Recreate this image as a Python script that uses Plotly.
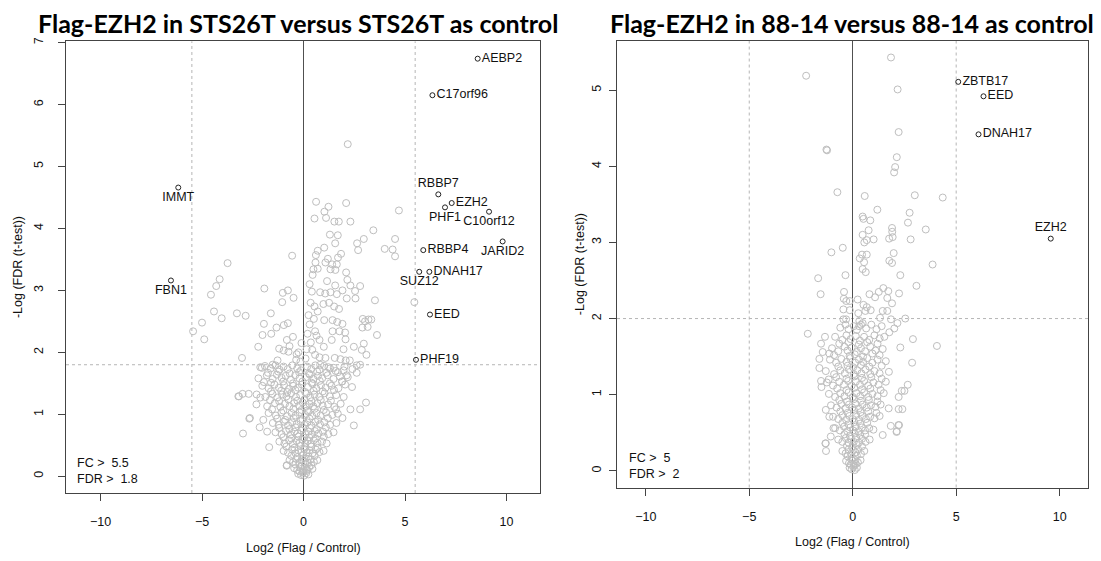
import plotly.graph_objects as go

# ---------------- DATA ----------------
# Left panel: Flag-EZH2 in STS26T
left_genes = ["AEBP2", "C17orf96", "RBBP7", "EZH2", "PHF1", "C10orf12", "JARID2",
              "RBBP4", "DNAH17", "SUZ12", "EED", "PHF19", "IMMT", "FBN1"]
left_gene_x = [8.58, 6.35, 6.64, 7.30, 6.97, 9.14, 9.81, 5.90, 6.20, 5.70, 6.23, 5.54, -6.17, -6.53]
left_gene_y = [6.74, 6.15, 4.55, 4.41, 4.34, 4.27, 3.79, 3.65, 3.30, 3.30, 2.61, 1.88, 4.66, 3.16]
left_fc_cut = 5.5
left_fdr_cut = 1.8

left_background = [
    (2.18, 5.36), (0.62, 4.43), (1.23, 4.35), (2.10, 4.41), (1.03, 4.27), (1.11, 4.17),
    (0.54, 4.16), (1.52, 4.11), (1.74, 4.11), (2.31, 4.11), (4.70, 4.29), (3.44, 3.97),
    (1.30, 3.90), (1.69, 3.89), (2.97, 3.83), (2.64, 3.76), (1.56, 3.76), (4.51, 3.83),
    (4.00, 3.67), (4.39, 3.66), (4.51, 3.55), (2.69, 3.65), (1.02, 3.69), (0.70, 3.64),
    (1.85, 3.59), (0.61, 3.57), (-0.56, 3.56), (1.20, 3.51), (1.70, 3.53), (0.59, 3.45),
    (1.08, 3.45), (1.41, 3.42), (1.64, 3.42), (0.49, 3.34), (0.70, 3.35), (1.33, 3.34),
    (1.57, 3.33), (2.10, 3.29), (-3.74, 3.44), (-4.13, 3.18), (-4.30, 3.07), (-4.56, 2.93),
    (-1.93, 3.03), (-0.77, 3.00), (-1.02, 2.96), (-0.49, 2.88), (-1.05, 2.81), (1.16, 3.15),
    (1.56, 3.08), (2.16, 3.17), (2.31, 3.08), (2.79, 3.07), (2.54, 2.99), (0.41, 2.98),
    (0.82, 2.97), (1.07, 2.95), (1.33, 2.97), (1.64, 2.94), (1.92, 3.00), (2.13, 2.87),
    (2.56, 2.87), (3.52, 2.84), (5.46, 2.81), (0.98, 2.78), (1.26, 2.80), (0.54, 2.74),
    (1.51, 2.74), (1.75, 2.70), (0.70, 2.66), (0.51, 2.54), (1.02, 2.52), (1.43, 2.52),
    (1.66, 2.49), (1.92, 2.46), (2.92, 2.54), (3.20, 2.53), (3.34, 2.53), (3.03, 2.50),
    (2.90, 2.40), (3.16, 2.41), (3.62, 2.28), (-4.41, 2.66), (-5.00, 2.48), (-5.44, 2.34),
    (-4.89, 2.21), (-4.03, 2.55), (-3.28, 2.63), (-2.85, 2.59), (-1.61, 2.63), (-1.95, 2.46),
    (-1.33, 2.40), (-0.77, 2.47), (-0.97, 2.44), (-1.59, 2.30), (-2.02, 2.28), (-0.82, 2.20),
    (-0.52, 2.25), (-0.69, 2.10), (-2.23, 2.09), (-1.20, 2.06), (-0.98, 2.03), (-0.74, 2.01),
    (-0.34, 1.97), (-3.03, 1.91), (-2.13, 1.76), (-2.05, 1.75), (-1.28, 1.87), (-1.52, 1.80),
    (-0.36, 1.88), (0.57, 2.34), (0.64, 2.27), (1.43, 2.34), (1.77, 2.34), (2.05, 2.32),
    (2.07, 2.21), (1.39, 2.20), (0.79, 2.20), (0.36, 2.16), (1.00, 2.09), (1.97, 2.05),
    (2.48, 2.09), (2.87, 2.04), (3.10, 1.96), (2.97, 2.14), (0.43, 2.04), (0.57, 1.96),
    (0.79, 1.92), (1.08, 1.91), (1.54, 1.91), (1.82, 1.89), (2.08, 1.87), (2.28, 1.87),
    (2.62, 1.79), (2.79, 1.80), (2.62, 1.67), (0.82, 1.80), (1.23, 1.76), (1.49, 1.75),
    (1.97, 1.71), (2.13, 1.63), (1.90, 1.53), (2.39, 1.44), (3.08, 1.19), (2.79, 1.08),
    (2.31, 1.08), (2.48, 0.82), (1.92, 0.94), (-3.18, 1.29), (-3.00, 1.33), (-2.70, 1.33),
    (-2.31, 1.32), (-2.13, 1.27), (-2.64, 0.94), (-2.98, 0.69), (-1.69, 0.47), (-1.98, 0.91),
    (-2.16, 0.79), (-1.79, 0.72), (-0.82, 0.18), (-3.21, 1.29), (-2.67, 0.93), (-0.83, 0.17),
    (-0.15, 1.85), (-0.25, 2.00), (-0.10, 2.15), (0.10, 1.90), (0.15, 2.05), (0.20, 2.30),
    (0.30, 2.45), (0.25, 2.60), (0.35, 2.80), (0.30, 3.10), (0.45, 3.25),
    (-1.90, 1.78), (-1.62, 1.74), (-1.38, 1.79), (-1.18, 1.72), (-0.98, 1.77), (-0.78, 1.73),
    (-0.55, 1.79), (-0.31, 1.74), (-0.12, 1.71), (0.18, 1.77), (0.38, 1.73), (0.58, 1.79),
    (0.79, 1.72), (1.02, 1.78), (1.31, 1.74), (1.58, 1.70), (2.02, 1.77), (2.41, 1.73),
    (-2.22, 1.58), (-1.81, 1.63), (-1.52, 1.57), (-1.31, 1.64), (-1.08, 1.59), (-0.88, 1.62),
    (-0.62, 1.56), (-0.41, 1.63), (-0.20, 1.58), (0.12, 1.60), (0.31, 1.64), (0.49, 1.57),
    (0.71, 1.62), (0.92, 1.58), (1.19, 1.63), (1.48, 1.57), (1.79, 1.61), (2.18, 1.60),
    (-2.03, 1.46), (-1.72, 1.42), (-1.43, 1.48), (-1.21, 1.43), (-0.96, 1.47), (-0.72, 1.41),
    (-0.51, 1.46), (-0.27, 1.43), (-0.08, 1.48), (0.22, 1.44), (0.44, 1.49), (0.63, 1.42),
    (0.86, 1.47), (1.09, 1.43), (1.38, 1.46), (1.72, 1.42), (2.05, 1.48),
    (-1.88, 1.28), (-1.53, 1.33), (-1.29, 1.27), (-1.06, 1.32), (-0.84, 1.29), (-0.61, 1.34),
    (-0.37, 1.28), (-0.16, 1.31), (0.14, 1.33), (0.33, 1.27), (0.54, 1.32), (0.78, 1.28),
    (1.04, 1.34), (1.29, 1.29), (1.61, 1.31), (1.98, 1.28),
    (-2.32, 1.16), (-1.79, 1.13), (-1.41, 1.18), (-1.14, 1.12), (-0.91, 1.17), (-0.69, 1.13),
    (-0.46, 1.18), (-0.22, 1.14), (-0.04, 1.19), (0.11, 1.12), (0.29, 1.17), (0.48, 1.13),
    (0.69, 1.18), (0.94, 1.14), (1.21, 1.16), (1.52, 1.12), (1.83, 1.17),
    (-1.72, 1.02), (-1.36, 0.98), (-1.09, 1.03), (-0.81, 0.97), (-0.59, 1.02), (-0.39, 0.98),
    (-0.19, 1.03), (0.08, 0.99), (0.24, 1.04), (0.43, 0.97), (0.64, 1.02), (0.84, 0.98),
    (1.11, 1.03), (1.42, 0.99), (1.69, 1.01),
    (-1.51, 0.86), (-1.22, 0.83), (-0.96, 0.88), (-0.76, 0.82), (-0.56, 0.87), (-0.34, 0.84),
    (-0.14, 0.89), (0.04, 0.83), (0.19, 0.87), (0.39, 0.82), (0.58, 0.88), (0.81, 0.84),
    (1.03, 0.87), (1.31, 0.83), (1.62, 0.86),
    (-1.38, 0.71), (-1.08, 0.68), (-0.86, 0.73), (-0.64, 0.67), (-0.46, 0.72), (-0.29, 0.69),
    (-0.11, 0.74), (0.09, 0.68), (0.24, 0.72), (0.41, 0.67), (0.56, 0.73), (0.74, 0.69),
    (0.96, 0.72), (1.22, 0.68), (1.48, 0.71),
    (-1.19, 0.56), (-0.94, 0.53), (-0.71, 0.58), (-0.52, 0.52), (-0.34, 0.57), (-0.19, 0.54),
    (-0.06, 0.59), (0.09, 0.53), (0.21, 0.57), (0.34, 0.52), (0.51, 0.58), (0.69, 0.54),
    (0.91, 0.56), (1.14, 0.53),
    (-0.98, 0.41), (-0.76, 0.38), (-0.56, 0.43), (-0.39, 0.37), (-0.26, 0.42), (-0.11, 0.39),
    (0.04, 0.44), (0.16, 0.38), (0.29, 0.42), (0.44, 0.37), (0.61, 0.43), (0.79, 0.39),
    (0.99, 0.41),
    (-0.69, 0.26), (-0.51, 0.23), (-0.36, 0.28), (-0.21, 0.22), (-0.09, 0.27), (0.01, 0.24),
    (0.11, 0.29), (0.21, 0.22), (0.34, 0.27), (0.51, 0.23), (0.68, 0.26),
    (-0.46, 0.13), (-0.31, 0.10), (-0.16, 0.15), (-0.05, 0.09), (0.06, 0.14), (0.16, 0.11),
    (0.29, 0.15), (0.44, 0.12),
    (-0.26, 0.04), (-0.12, 0.02), (-0.03, 0.06), (0.03, 0.01), (0.13, 0.05), (0.24, 0.03),
    (-1.75, 1.67), (-1.25, 1.69), (-0.68, 1.66), (-0.22, 1.68), (0.27, 1.66), (0.67, 1.69),
    (1.13, 1.67), (1.70, 1.68),
    (-1.95, 1.52), (-1.60, 1.51), (-1.00, 1.53), (-0.52, 1.50), (-0.05, 1.53), (0.40, 1.51),
    (0.80, 1.54), (1.30, 1.50), (1.90, 1.53),
    (-1.60, 1.37), (-1.10, 1.38), (-0.80, 1.36), (-0.40, 1.39), (0.08, 1.36), (0.50, 1.38),
    (0.95, 1.37), (1.50, 1.39),
    (-1.65, 1.23), (-1.20, 1.21), (-0.75, 1.24), (-0.30, 1.22), (0.05, 1.24), (0.40, 1.21),
    (0.85, 1.23), (1.35, 1.22),
    (-1.55, 1.08), (-1.00, 1.06), (-0.50, 1.09), (-0.10, 1.07), (0.18, 1.06), (0.55, 1.09),
    (1.00, 1.07), (1.60, 1.08),
    (-1.30, 0.93), (-0.90, 0.91), (-0.48, 0.94), (-0.05, 0.92), (0.30, 0.93), (0.72, 0.91),
    (1.20, 0.94),
    (-1.20, 0.78), (-0.70, 0.76), (-0.40, 0.79), (-0.02, 0.77), (0.32, 0.78), (0.65, 0.76),
    (1.10, 0.79),
    (-1.00, 0.63), (-0.60, 0.61), (-0.25, 0.64), (0.03, 0.62), (0.28, 0.63), (0.60, 0.61),
    (1.00, 0.64),
    (-0.85, 0.48), (-0.45, 0.46), (-0.15, 0.49), (0.10, 0.47), (0.38, 0.48), (0.70, 0.46),
    (-0.60, 0.33), (-0.30, 0.31), (-0.02, 0.34), (0.25, 0.32), (0.55, 0.33),
    (-0.40, 0.19), (-0.10, 0.17), (0.10, 0.20), (0.38, 0.18),
    (-0.20, 0.08), (0.00, 0.07), (0.18, 0.09),
]

# Right panel: Flag-EZH2 in 88-14
right_genes = ["ZBTB17", "EED", "DNAH17", "EZH2"]
right_gene_x = [5.10, 6.32, 6.08, 9.57]
right_gene_y = [5.11, 4.92, 4.42, 3.05]
right_fc_cut = 5
right_fdr_cut = 2

right_background = [
    (1.85, 5.43), (-2.25, 5.19), (2.17, 5.01), (2.22, 4.45), (-1.24, 4.21), (-1.27, 4.22),
    (2.13, 4.12), (2.05, 3.99), (2.00, 3.92), (-0.74, 3.66), (0.58, 3.61), (3.00, 3.62),
    (4.35, 3.59), (1.19, 3.43), (2.75, 3.39), (0.48, 3.34), (0.52, 3.31), (0.85, 3.29),
    (2.67, 3.26), (3.53, 3.17), (1.90, 3.19), (1.91, 3.14), (0.77, 3.16), (0.48, 3.10),
    (0.68, 3.03), (0.56, 3.00), (1.01, 3.04), (1.76, 3.05), (1.93, 3.07), (2.80, 3.04),
    (-1.03, 2.87), (-0.48, 2.93), (0.34, 2.79), (0.45, 2.84), (0.68, 2.84), (0.55, 2.74),
    (1.77, 2.76), (1.90, 2.73), (1.98, 2.86), (3.86, 2.71), (0.48, 2.65), (0.63, 2.61),
    (2.30, 2.57), (-0.35, 2.57), (-1.67, 2.53), (3.08, 2.43), (-1.55, 2.32), (-0.42, 2.35),
    (-0.43, 2.26), (-0.31, 2.23), (-0.14, 2.23), (0.24, 2.25), (0.81, 2.32), (1.08, 2.28),
    (1.26, 2.35), (1.48, 2.40), (1.72, 2.36), (2.24, 2.33), (1.67, 2.27), (1.90, 2.20),
    (0.52, 2.18), (0.68, 2.15), (0.87, 2.11), (0.61, 2.10), (1.45, 2.10), (1.67, 2.10),
    (-0.45, 2.12), (-0.14, 2.11), (0.27, 2.07), (-0.45, 1.99), (-0.32, 1.99), (1.32, 2.01),
    (2.54, 2.00), (1.85, 1.99), (0.32, 1.97), (0.40, 1.92), (0.31, 1.90), (0.48, 1.94),
    (2.16, 1.94), (2.01, 1.87), (1.77, 1.82), (1.53, 1.76), (-2.17, 1.80), (-1.34, 1.76),
    (-1.53, 1.67), (2.91, 1.73), (2.30, 1.62), (4.07, 1.64), (-1.45, 1.56), (-1.13, 1.54),
    (-1.61, 1.47), (-1.61, 1.35), (2.87, 1.42), (-1.53, 1.18), (-1.51, 1.10), (-1.16, 1.20),
    (2.66, 1.13), (2.50, 1.05), (2.37, 1.05), (2.22, 0.97), (1.74, 0.82), (2.22, 0.81),
    (2.40, 0.81), (1.84, 0.59), (2.21, 0.60), (2.13, 0.52), (1.45, 0.47), (-1.30, 0.80),
    (-1.13, 0.71), (-0.93, 0.56), (-1.06, 0.45), (-1.30, 0.36), (-1.29, 0.26), (-1.32, 0.36),
    (2.24, 0.60), (2.12, 0.51),
    (-0.60, 1.88), (-0.35, 1.92), (-0.20, 1.86), (0.05, 1.90), (0.20, 1.85), (0.65, 1.87),
    (0.90, 1.92), (1.15, 1.86), (1.40, 1.90),
    (-0.85, 1.76), (-0.50, 1.72), (-0.30, 1.78), (-0.10, 1.73), (0.15, 1.77), (0.35, 1.71),
    (0.55, 1.76), (0.80, 1.72), (1.05, 1.78), (1.30, 1.74),
    (-1.00, 1.61), (-0.70, 1.57), (-0.40, 1.63), (-0.25, 1.58), (-0.05, 1.62), (0.20, 1.56),
    (0.40, 1.61), (0.60, 1.57), (0.85, 1.63), (1.10, 1.58), (1.45, 1.60),
    (-1.10, 1.46), (-0.80, 1.42), (-0.55, 1.47), (-0.30, 1.43), (-0.12, 1.48), (0.12, 1.42),
    (0.30, 1.46), (0.50, 1.43), (0.70, 1.48), (0.95, 1.42), (1.20, 1.46), (1.60, 1.44),
    (-1.30, 1.31), (-0.90, 1.27), (-0.60, 1.32), (-0.38, 1.28), (-0.18, 1.33), (0.05, 1.27),
    (0.22, 1.32), (0.42, 1.28), (0.62, 1.33), (0.85, 1.27), (1.05, 1.31), (1.30, 1.28),
    (1.75, 1.30),
    (-1.25, 1.16), (-0.95, 1.12), (-0.65, 1.17), (-0.42, 1.13), (-0.22, 1.18), (-0.05, 1.12),
    (0.15, 1.17), (0.35, 1.13), (0.55, 1.18), (0.75, 1.12), (1.00, 1.16), (1.25, 1.13),
    (1.60, 1.17),
    (-1.15, 1.01), (-0.85, 0.97), (-0.60, 1.02), (-0.40, 0.98), (-0.20, 1.03), (0.00, 0.97),
    (0.18, 1.02), (0.36, 0.98), (0.55, 1.03), (0.75, 0.97), (0.95, 1.01), (1.20, 0.98),
    (1.50, 1.02),
    (-1.05, 0.86), (-0.78, 0.83), (-0.55, 0.88), (-0.35, 0.82), (-0.18, 0.87), (-0.02, 0.83),
    (0.14, 0.88), (0.30, 0.82), (0.48, 0.87), (0.68, 0.83), (0.88, 0.86), (1.10, 0.84),
    (1.35, 0.87),
    (-0.95, 0.71), (-0.70, 0.68), (-0.50, 0.73), (-0.32, 0.67), (-0.16, 0.72), (0.00, 0.68),
    (0.15, 0.73), (0.30, 0.67), (0.46, 0.72), (0.64, 0.68), (0.84, 0.71), (1.05, 0.69),
    (1.30, 0.72),
    (-0.85, 0.56), (-0.62, 0.53), (-0.42, 0.58), (-0.26, 0.52), (-0.12, 0.57), (0.02, 0.53),
    (0.14, 0.58), (0.28, 0.52), (0.44, 0.57), (0.60, 0.53), (0.80, 0.56), (1.00, 0.54),
    (-0.70, 0.41), (-0.50, 0.38), (-0.34, 0.43), (-0.20, 0.37), (-0.08, 0.42), (0.05, 0.38),
    (0.17, 0.43), (0.30, 0.37), (0.45, 0.42), (0.62, 0.38), (0.82, 0.41),
    (-0.50, 0.26), (-0.34, 0.23), (-0.20, 0.28), (-0.08, 0.22), (0.04, 0.27), (0.14, 0.24),
    (0.26, 0.28), (0.40, 0.22), (0.56, 0.26),
    (-0.32, 0.13), (-0.18, 0.10), (-0.07, 0.15), (0.04, 0.09), (0.13, 0.14), (0.25, 0.11),
    (0.38, 0.14),
    (-0.15, 0.04), (-0.05, 0.02), (0.03, 0.05), (0.10, 0.01), (0.20, 0.04),
    (-0.65, 1.67), (-0.20, 1.69), (0.30, 1.66), (0.70, 1.69), (1.20, 1.67),
    (-0.90, 1.52), (-0.15, 1.51), (0.10, 1.53), (0.50, 1.50), (0.95, 1.54), (1.30, 1.52),
    (-0.70, 1.37), (-0.25, 1.38), (0.02, 1.36), (0.40, 1.39), (0.80, 1.37), (1.40, 1.38),
    (-0.80, 1.23), (-0.30, 1.21), (0.08, 1.24), (0.45, 1.22), (0.90, 1.23), (1.40, 1.21),
    (-0.75, 1.08), (-0.30, 1.06), (0.08, 1.09), (0.45, 1.07), (0.85, 1.08), (1.35, 1.06),
    (-0.65, 0.93), (-0.28, 0.91), (0.05, 0.94), (0.40, 0.92), (0.78, 0.93), (1.20, 0.91),
    (-0.60, 0.78), (-0.25, 0.76), (0.07, 0.79), (0.38, 0.77), (0.75, 0.78), (1.15, 0.76),
    (-0.50, 0.63), (-0.20, 0.61), (0.08, 0.64), (0.36, 0.62), (0.70, 0.63),
    (-0.40, 0.48), (-0.14, 0.46), (0.11, 0.49), (0.36, 0.47), (0.60, 0.48),
    (-0.28, 0.33), (-0.03, 0.31), (0.20, 0.34), (0.45, 0.32),
    (-0.25, 0.19), (0.00, 0.17), (0.20, 0.20),
    (-0.10, 0.08), (0.06, 0.07), (0.15, 0.09),
]

x_ticks = [-10, -5, 0, 5, 10]
left_y_ticks = [0, 1, 2, 3, 4, 5, 6, 7]
right_y_ticks = [0, 1, 2, 3, 4, 5]

left_title = "Flag-EZH2 in STS26T versus STS26T as control"
right_title = "Flag-EZH2 in 88-14 versus 88-14 as control"
x_label = "Log2 (Flag / Control)"
y_label = "-Log (FDR (t-test))"

# Label positions (style)
left_label_pos = ["middle right", "middle right", "top center", "middle right", "bottom center",
                  "bottom center", "bottom center", "middle right", "middle right", "bottom center",
                  "middle right", "middle right", "bottom center", "bottom center"]
right_label_pos = ["middle right", "middle right", "middle right", "top center"]

# ---------------- FIGURE ----------------
W, H = 1101, 561
FONT = "Liberation Sans, Arial, sans-serif"
TFONT = "Lato, sans-serif"
GRAY = "#bebebe"
AX = "#444444"

def px_x(p):
    return p / W

def px_y(p):
    return (H - p) / H

fig = go.Figure()

lbx, lby = zip(*left_background)
rbx, rby = zip(*right_background)

fig.add_trace(go.Scatter(x=list(lbx), y=list(lby), mode="markers", xaxis="x", yaxis="y",
                         marker=dict(symbol="circle-open", size=7, color=GRAY, line=dict(width=1)),
                         hoverinfo="skip", showlegend=False))
fig.add_trace(go.Scatter(x=left_gene_x, y=left_gene_y, text=left_genes, mode="markers+text",
                         textposition=left_label_pos, xaxis="x", yaxis="y",
                         textfont=dict(family=FONT, size=12.5, color="#111"),
                         marker=dict(symbol="circle-open", size=5, color="#222", line=dict(width=1)),
                         showlegend=False))
fig.add_trace(go.Scatter(x=list(rbx), y=list(rby), mode="markers", xaxis="x2", yaxis="y2",
                         marker=dict(symbol="circle-open", size=7, color=GRAY, line=dict(width=1)),
                         hoverinfo="skip", showlegend=False))
fig.add_trace(go.Scatter(x=right_gene_x, y=right_gene_y, text=right_genes, mode="markers+text",
                         textposition=right_label_pos, xaxis="x2", yaxis="y2",
                         textfont=dict(family=FONT, size=12.5, color="#111"),
                         marker=dict(symbol="circle-open", size=5, color="#222", line=dict(width=1)),
                         showlegend=False))

common_x = dict(showgrid=False, zeroline=True, zerolinecolor="#505050", zerolinewidth=1.2,
                showline=True, linecolor=AX, linewidth=1, mirror=True,
                ticks="outside", ticklen=7, tickcolor=AX, tickvals=x_ticks,
                tickfont=dict(family=FONT, size=12.5, color="#111"),
                ticklabelstandoff=10)
common_y = dict(showgrid=False, zeroline=False,
                showline=True, linecolor=AX, linewidth=1, mirror=True,
                ticks="outside", ticklen=7, tickcolor=AX, tickangle=-90,
                tickfont=dict(family=FONT, size=12.5, color="#111"))

# pixel geometry of the two plot boxes
L_box = (66, 540, 37.6, 492.5)
R_box = (617, 1088, 37, 487)

fig.update_layout(
    width=W, height=H,
    margin=dict(l=0, r=0, t=0, b=0),
    paper_bgcolor="white", plot_bgcolor="white",
    xaxis=dict(common_x, domain=[px_x(L_box[0]), px_x(L_box[1])], range=[-11.7, 11.65], anchor="y"),
    yaxis=dict(common_y, domain=[px_y(L_box[3]), px_y(L_box[2])], range=[-0.27, 7.02],
               tickvals=left_y_ticks, anchor="x", ticklabelstandoff=10),
    xaxis2=dict(common_x, domain=[px_x(R_box[0]), px_x(R_box[1])], range=[-11.39, 11.37], anchor="y2"),
    yaxis2=dict(common_y, domain=[px_y(R_box[3]), px_y(R_box[2])], range=[-0.22, 5.65],
                tickvals=right_y_ticks, anchor="x2", ticklabelstandoff=3),
)

# threshold lines
dot = dict(color="#b5b5b5", width=1, dash="dot")
shapes = []
for xr, yr, fc, fdr in [("x", "y", left_fc_cut, left_fdr_cut), ("x2", "y2", right_fc_cut, right_fdr_cut)]:
    for v in (-fc, fc):
        shapes.append(dict(type="line", xref=xr, yref=yr + " domain", x0=v, x1=v, y0=0, y1=1, line=dot, layer="below"))
    shapes.append(dict(type="line", xref=xr + " domain", yref=yr, x0=0, x1=1, y0=fdr, y1=fdr, line=dot, layer="below"))
fig.update_layout(shapes=shapes)

nb = "\u00a0"
annotations = [
    dict(text=f"<b>{left_title}</b>", xref="paper", yref="paper", x=px_x(297.5), y=px_y(19),
         xanchor="center", yanchor="middle", showarrow=False,
         font=dict(family=TFONT, size=25, color="#000")),
    dict(text=f"<b>{right_title}</b>", xref="paper", yref="paper", x=px_x(852), y=px_y(19),
         xanchor="center", yanchor="middle", showarrow=False,
         font=dict(family=TFONT, size=25, color="#000")),
    dict(text=x_label, xref="paper", yref="paper", x=px_x(303.5), y=px_y(548),
         xanchor="center", yanchor="middle", showarrow=False, font=dict(family=FONT, size=12.5, color="#111")),
    dict(text=x_label, xref="paper", yref="paper", x=px_x(852.7), y=px_y(542),
         xanchor="center", yanchor="middle", showarrow=False, font=dict(family=FONT, size=12.5, color="#111")),
    dict(text=y_label, xref="paper", yref="paper", x=px_x(18), y=px_y(265),
         xanchor="center", yanchor="middle", textangle=-90, showarrow=False,
         font=dict(family=FONT, size=12.5, color="#111")),
    dict(text=y_label, xref="paper", yref="paper", x=px_x(580), y=px_y(262),
         xanchor="center", yanchor="middle", textangle=-90, showarrow=False,
         font=dict(family=FONT, size=12.5, color="#111")),
    dict(text=f"FC >{nb}{nb}{left_fc_cut}<br>FDR >{nb}{nb}{left_fdr_cut}", xref="x domain", yref="y domain",
         x=0.019, y=0.049, xanchor="left", yanchor="middle", align="left", showarrow=False,
         font=dict(family=FONT, size=12.5, color="#111")),
    dict(text=f"FC >{nb}{nb}{right_fc_cut}<br>FDR >{nb}{nb}{right_fdr_cut}", xref="x2 domain", yref="y2 domain",
         x=0.021, y=0.049, xanchor="left", yanchor="middle", align="left", showarrow=False,
         font=dict(family=FONT, size=12.5, color="#111")),
]
fig.update_layout(annotations=annotations)

fig.write_html("out.html", config={"displayModeBar": False},
               post_script="document.body.style.margin='0px';")
